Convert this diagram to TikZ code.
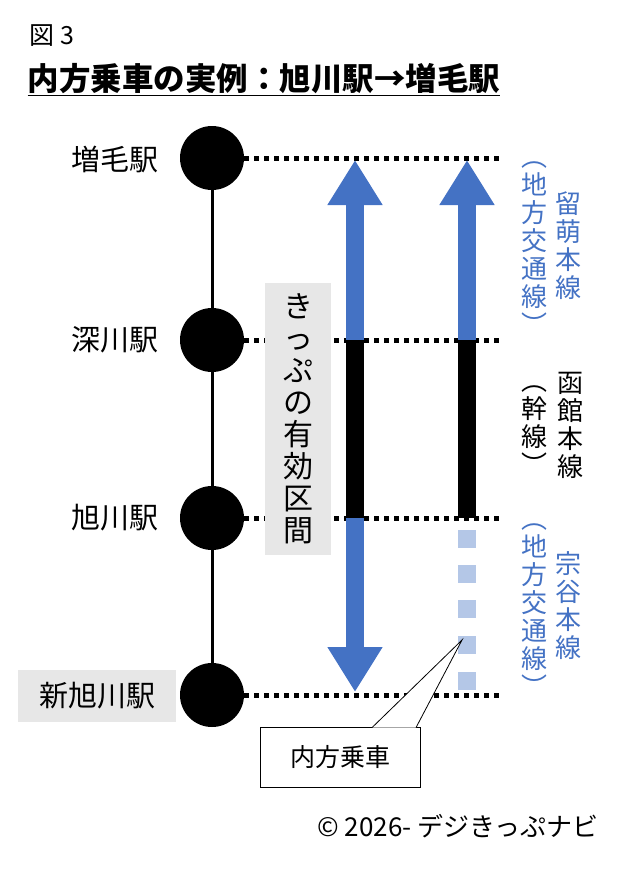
\documentclass[tikz,border=0pt]{standalone}
\usepackage{fontspec}
\setmainfont{Noto Sans CJK JP}
\usetikzlibrary{arrows.meta, positioning, calc}
\definecolor{lineblue}{HTML}{4472C4}
\definecolor{paleblue}{HTML}{B4C7E7}
\definecolor{boxgray}{HTML}{E7E7E7}
\newcommand{\vparen}[1]{\raisebox{0pt}[8pt][0pt]{#1}}
\begin{document}
\begin{tikzpicture}[x=1pt, y=-1pt,
    station/.style={circle, fill=black, minimum size=64pt, inner sep=0pt},
    stlabel/.style={font=\fontsize{29}{29}\selectfont, anchor=east},
    track/.style={line width=5pt, dash pattern=on 5pt off 5pt},
    shaft/.style={line width=18pt, draw=lineblue},
    bigtip/.tip={Triangle[width=52pt 0 0, length=45pt 0 0, fill=lineblue]},
    vtext/.style={align=center, inner sep=0pt, font=\fontsize{26}{28}\selectfont},
]
\useasboundingbox (0,0) rectangle (640,881);

% Heading
\node[anchor=west, font=\fontsize{25}{25}\selectfont] (fig) at (26,36) {図 3};
\node[anchor=west, font=\fontsize{31.5}{31.5}\selectfont\bfseries] (title) at (24,80) {\underline{内方乗車の実例：旭川駅→増毛駅}};

% Stations
\node[station] (mashike) at (212,158) {};
\node[station] (fukagawa) at (212,340) {};
\node[station] (asahikawa) at (212,518) {};
\node[station] (shinasa) at (212,695) {};
\draw[line width=3pt] (mashike) -- (fukagawa) -- (asahikawa) -- (shinasa);

\node[stlabel] at (162,160) {増毛駅};
\node[stlabel] at (162,340) {深川駅};
\node[stlabel] at (162,518) {旭川駅};
\node[stlabel, fill=boxgray, minimum width=158pt, minimum height=52pt, anchor=center] at (97,696) {新旭川駅};

% Track lines
\foreach \s/\y in {mashike/158, fukagawa/340, asahikawa/518, shinasa/695}
    \draw[track] (\s.east) -- (500,\y);

% Ticket validity box
\node[fill=boxgray, minimum width=66pt, minimum height=272pt, inner sep=0pt] (valid) at (298,419) {};
\node[vtext, font=\fontsize{30}{32}\selectfont] at (valid) {き\\っ\\ぷ\\の\\有\\効\\区\\間};

% Left arrow (full ticket range)
\draw[shaft, bigtip-bigtip] (355,160) -- (355,692);
\fill (346,340) rectangle (364,518);

% Right arrow (actual ride)
\draw[shaft, -bigtip] (467,340) -- (467,160);
\fill (458,340) rectangle (476,518);
\foreach \y in {530,565,600,636,672}
    \fill[paleblue] (458,\y) rectangle (476,\y+18);
\coordinate (ride) at (462,640);

% Line names
\node[vtext, text=lineblue] at (568,246) {留\\萌\\本\\線};
\node[vtext, text=lineblue] at (534,246) {\vparen{︵}\\地\\方\\交\\通\\線\\\vparen{︶}};
\node[vtext] at (570,425) {函\\館\\本\\線};
\node[vtext] at (534,428) {\vparen{︵}\\幹\\線\\\vparen{︶}};
\node[vtext, text=lineblue] at (568,606) {宗\\谷\\本\\線};
\node[vtext, text=lineblue] at (534,608) {\vparen{︵}\\地\\方\\交\\通\\線\\\vparen{︶}};

% Callout
\node[draw, thick, fill=white, minimum width=160pt, minimum height=60pt, font=\fontsize{25}{25}\selectfont] (inner) at (340,757) {内方乗車};
\draw[thick, fill=white] (372,727.6) -- (ride) -- (416,727.6);

% Credit
\node[anchor=east, font=\fontsize{26}{26}\selectfont] (credit) at (602,826) {© 2026- デジきっぷナビ};
\end{tikzpicture}
\end{document}
